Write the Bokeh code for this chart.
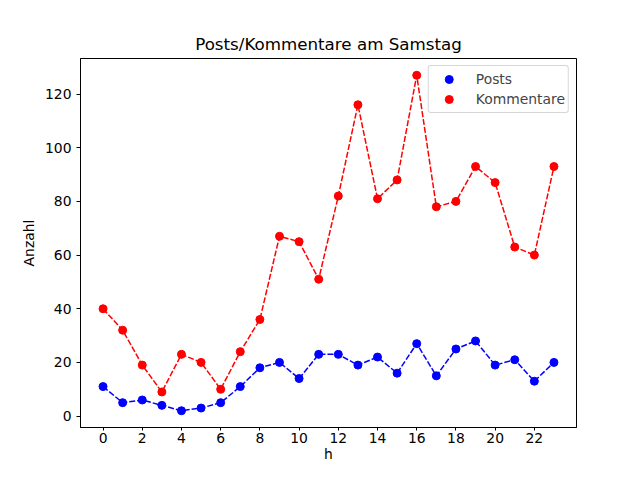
from bokeh.plotting import figure
from bokeh.models import Range1d, FixedTicker, Legend, LegendItem
from bokeh.embed import file_html
from bokeh.resources import INLINE

hours = list(range(24))
posts = [11, 5, 6, 4, 2, 3, 5, 11, 18, 20, 14, 23, 23, 19, 22, 16, 27, 15, 25, 28, 19, 21, 13, 20]
kommentare = [40, 32, 19, 9, 23, 20, 10, 24, 36, 67, 65, 51, 82, 116, 81, 88, 127, 78, 80, 93, 87, 63, 60, 93]
x_ticks = list(range(0, 24, 2))
y_ticks = list(range(0, 121, 20))

FONT = "DejaVu Sans"
FS = "13.9px"

p = figure(width=624, height=464, output_backend="svg", toolbar_location=None,
           title="Posts/Kommentare am Samstag",
           x_range=Range1d(-1.15, 24.15), y_range=Range1d(-4.25, 133.25),
           min_border_left=80, min_border_right=48, min_border_top=58, min_border_bottom=37)

p.title.text_font = FONT
p.title.text_font_size = "16.7px"
p.title.text_font_style = "normal"
p.title.align = "center"
p.title.text_color = "black"

p.grid.visible = False
p.outline_line_color = "black"
p.outline_line_width = 1

for ax in (p.xaxis[0], p.yaxis[0]):
    ax.major_label_text_font = FONT
    ax.major_label_text_font_size = FS
    ax.major_label_text_color = "black"
    ax.axis_label_text_font = FONT
    ax.axis_label_text_font_size = FS
    ax.axis_label_text_font_style = "normal"
    ax.axis_label_text_color = "black"
    ax.minor_tick_line_color = None
    ax.major_tick_out = 4
    ax.major_tick_in = 0
    ax.axis_line_color = "black"
    ax.major_tick_line_color = "black"

p.xaxis[0].major_tick_out = 3
p.xaxis[0].major_label_standoff = 2
p.xaxis[0].axis_label_standoff = 0

p.xaxis[0].ticker = FixedTicker(ticks=x_ticks)
p.yaxis[0].ticker = FixedTicker(ticks=y_ticks)
p.xaxis.axis_label = "h"
p.yaxis.axis_label = "Anzahl"

dash = "6 2"
p.line(hours, posts, line_color="blue", line_width=1.5, line_dash=dash)
r1 = p.scatter(hours, posts, size=8, fill_color="blue", line_color="blue")
p.line(hours, kommentare, line_color="red", line_width=1.5, line_dash=dash)
r2 = p.scatter(hours, kommentare, size=8, fill_color="red", line_color="red")

legend = Legend(items=[LegendItem(label="Posts", renderers=[r1]),
                       LegendItem(label="Kommentare", renderers=[r2])],
                location="top_right")
legend.label_text_font = FONT
legend.label_text_font_size = FS
legend.border_line_color = "#cccccc"
legend.border_line_alpha = 0.8
legend.background_fill_alpha = 0.8
legend.spacing = 0
legend.padding = 3
legend.margin = 7
legend.glyph_width = 34
legend.glyph_height = 20
legend.label_height = 20
legend.label_standoff = 10
if "border_radius" in Legend.properties():
    legend.border_radius = 3
p.add_layout(legend)

open("out.html", "w").write(file_html(p, INLINE))
